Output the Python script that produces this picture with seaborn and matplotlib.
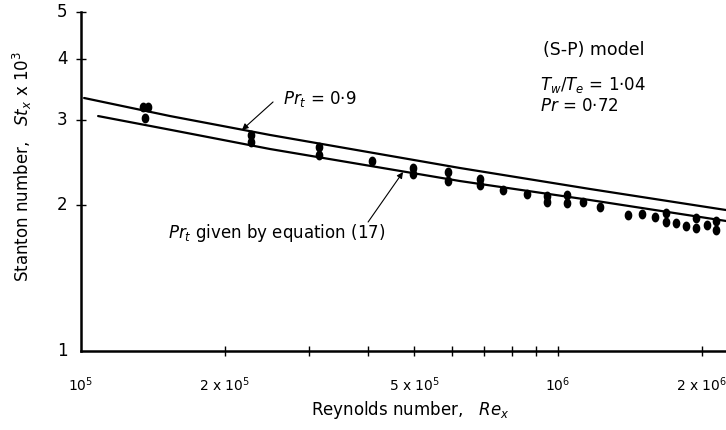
import numpy as np
import pandas as pd
import matplotlib
matplotlib.use("Agg")
import matplotlib.pyplot as plt
from matplotlib.path import Path
from matplotlib.ticker import FixedLocator, NullLocator
import seaborn as sns

# Theory curves: Stanton number (x 10^3) against Reynolds number
re_curve_09 = [1.015e5, 1.537e5, 2.490e5, 6.230e5, 1.167e6, 2.250e6]
st_curve_09 = [3.324, 3.051, 2.789, 2.384, 2.158, 1.953]

re_curve_eq17 = [1.086e5, 1.537e5, 2.490e5, 6.230e5, 1.167e6, 2.250e6]
st_curve_eq17 = [3.051, 2.859, 2.609, 2.241, 2.048, 1.854]

# Measured points
re_data = [1.349e5, 1.382e5, 1.362e5,
           2.272e5, 2.272e5,
           3.155e5, 3.155e5,
           4.074e5,
           4.966e5, 4.966e5,
           5.88e5, 5.88e5,
           6.864e5, 6.864e5,
           7.667e5,
           8.61e5,
           9.48e5, 9.48e5,
           1.044e6, 1.044e6,
           1.128e6,
           1.225e6,
           1.402e6,
           1.500e6,
           1.597e6,
           1.684e6, 1.684e6,
           1.768e6,
           1.855e6,
           1.947e6, 1.947e6,
           2.053e6,
           2.144e6, 2.144e6]
st_data = [3.185, 3.185, 3.023,
           2.789, 2.698,
           2.634, 2.536,
           2.465,
           2.384, 2.317,
           2.339, 2.241,
           2.263, 2.199,
           2.148,
           2.107,
           2.087, 2.029,
           2.097, 2.019,
           2.029,
           1.981,
           1.907,
           1.916,
           1.889,
           1.925, 1.845,
           1.836,
           1.810,
           1.880, 1.793,
           1.819,
           1.854, 1.776]

x_major = [2e5, 3e5, 4e5, 5e5, 6e5, 7e5, 8e5, 9e5, 1e6, 2e6]
x_labeled = [1e5, 2e5, 5e5, 1e6, 2e6]
x_labels = [r"10$^5$", r"2 x 10$^5$", r"5 x 10$^5$", r"10$^6$", r"2 x 10$^6$"]
y_ticks = [1, 2, 3, 4, 5]
y_labels = ["1", "2", "3", "4", "5"]

sns.set_style("white")
plt.rcParams["font.family"] = ["DejaVu Sans"]
plt.rcParams["mathtext.fontset"] = "dejavusans"
plt.rcParams["text.color"] = "black"
plt.rcParams["axes.labelcolor"] = "black"

fig = plt.figure(figsize=(7.26, 4.30), dpi=100)
ax = fig.add_axes([0.1116, 0.1837, 0.8884, 0.7884])

curves = pd.DataFrame({"Re": re_curve_09 + re_curve_eq17,
                       "St": st_curve_09 + st_curve_eq17,
                       "curve": ["0.9"] * len(re_curve_09) + ["eq17"] * len(re_curve_eq17)})
sns.lineplot(data=curves, x="Re", y="St", units="curve", estimator=None,
             color="black", lw=1.6, ax=ax, legend=False, sort=False)

t = np.linspace(0, 2 * np.pi, 40)
ellipse = Path(np.column_stack([0.78 * np.cos(t), np.sin(t)]))
points = pd.DataFrame({"Re": re_data, "St": st_data})
sns.scatterplot(data=points, x="Re", y="St", marker=ellipse, s=50,
                color="black", edgecolor="black", linewidth=0, ax=ax, zorder=3)

ax.set_xscale("log")
ax.set_yscale("log")
ax.set_xlim(1e5, 2.25e6)
ax.set_ylim(1, 5)

# Axes frame: only left and bottom
for side in ("top", "right"):
    ax.spines[side].set_visible(False)
for side in ("left", "bottom"):
    ax.spines[side].set_linewidth(1.8)
    ax.spines[side].set_color("black")

# Tick marks crossing the axis lines, labels at selected positions
ax.xaxis.set_major_locator(FixedLocator(x_major))
ax.xaxis.set_minor_locator(NullLocator())
ax.tick_params(axis="x", which="major", direction="inout", length=7, width=1.0,
               color="black", labelbottom=False, bottom=True)
ax.yaxis.set_major_locator(FixedLocator([2, 3, 4, 5]))
ax.yaxis.set_minor_locator(NullLocator())
ax.tick_params(axis="y", which="major", direction="inout", length=7, width=1.0,
               color="black", labelleft=False, left=True)

for xv, lab in zip(x_labeled, x_labels):
    ax.annotate(lab, xy=(xv, 0), xycoords=("data", "axes fraction"),
                xytext=(0, -34), textcoords="offset pixels",
                ha="center", va="center", fontsize=10)
for yv, lab in zip(y_ticks, y_labels):
    ax.annotate(lab, xy=(0, yv), xycoords=("axes fraction", "data"),
                xytext=(-19, 0), textcoords="offset pixels",
                ha="center", va="center", fontsize=12)

ax.set_xlabel(r"Reynolds number,   $Re_x$", fontsize=12, va="center")
ax.xaxis.set_label_coords(0.51, -0.174)
ax.set_ylabel(r"Stanton number,   $St_x$ x 10$^3$", fontsize=12, va="center")
ax.yaxis.set_label_coords(-0.0915, 0.543)

# Curve labels with leader arrows
arrow = dict(arrowstyle="-|>", color="black", lw=0.8, mutation_scale=9,
             shrinkA=0, shrinkB=0)
ax.annotate("", xy=(2.175e5, 2.856), xytext=(2.527e5, 3.262), arrowprops=arrow)
ax.text(2.651e5, 3.308, r"$Pr_t$ = 0·9", fontsize=12, ha="left", va="center")
ax.annotate("", xy=(4.732e5, 2.339), xytext=(3.998e5, 1.845), arrowprops=arrow)
ax.text(1.522e5, 1.751, r"$Pr_t$ given by equation (17)", fontsize=12,
        ha="left", va="center")

ax.text(9.303e5, 4.174, "(S-P) model", fontsize=12.5, ha="left", va="center")
ax.text(9.168e5, 3.536, r"$T_w/T_e$ = 1·04", fontsize=12, ha="left", va="center")
ax.text(9.168e5, 3.200, r"$Pr$ = 0·72", fontsize=12, ha="left", va="center")

fig.savefig("out.png", dpi=100)
